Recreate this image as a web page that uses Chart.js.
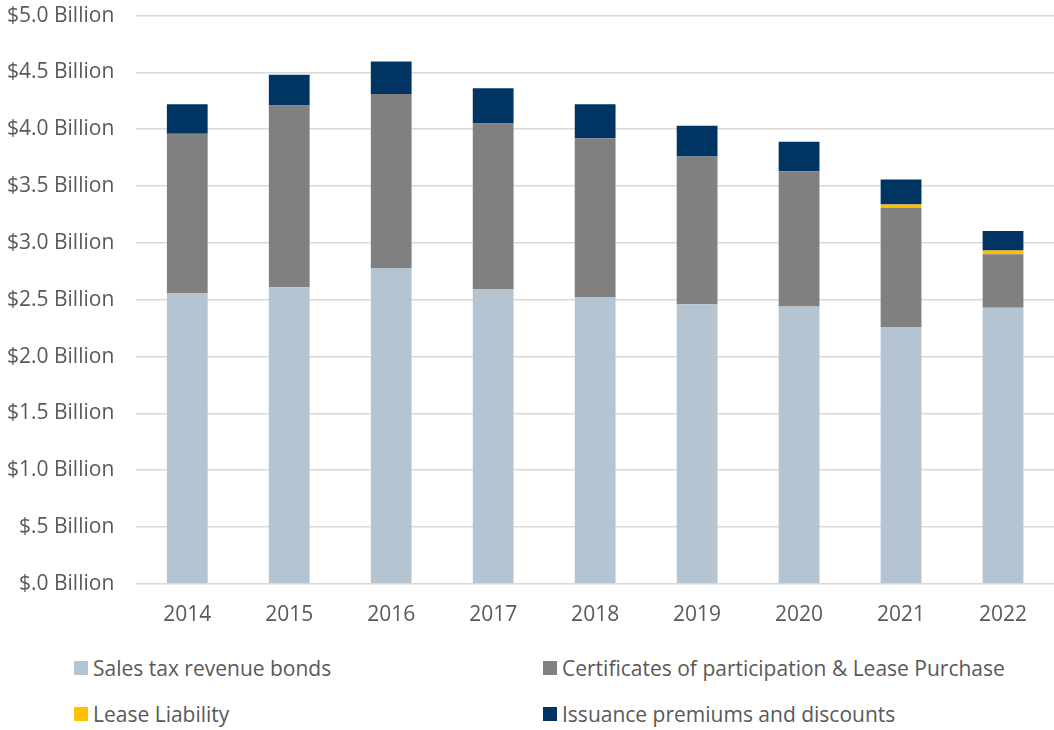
<!DOCTYPE html>
<html>
<head>
<meta charset="utf-8">
<script src="https://cdn.jsdelivr.net/npm/chart.js@4/dist/chart.umd.min.js"></script>
<style>
  body { margin: 0; background: #fff; font-family: "Open Sans", sans-serif; overflow: hidden; }
  #wrap { position: relative; width: 1054px; height: 730px; overflow: hidden; }
  #debtChart { position: absolute; left: -19px; top: -19px; }
  #legend { position: absolute; left: 74px; top: 654px; width: 980px; }
  .item { position: absolute; display: flex; align-items: center; font-size: 21px; color: #595959; white-space: nowrap; }
  .box { width: 14px; height: 14px; margin-right: 5px; }
</style>
</head>
<body>
<div id="wrap">
  <canvas id="debtChart" width="1073" height="658"></canvas>
  <div id="legend"></div>
</div>
<script>
const years = ["2014", "2015", "2016", "2017", "2018", "2019", "2020", "2021", "2022"];
const salesTaxBonds = [2.56, 2.61, 2.78, 2.59, 2.52, 2.46, 2.44, 2.26, 2.43];
const certificates = [1.40, 1.60, 1.53, 1.46, 1.40, 1.30, 1.19, 1.05, 0.47];
const leaseLiability = [0, 0, 0, 0, 0, 0, 0, 0.027, 0.034];
const premiums = [0.26, 0.27, 0.285, 0.31, 0.30, 0.27, 0.26, 0.22, 0.17];

const seriesNames = ["Sales tax revenue bonds", "Certificates of participation & Lease Purchase", "Lease Liability", "Issuance premiums and discounts"];
const seriesColors = ["#b4c4d1", "#808080", "#ffc000", "#003462"];
const seriesData = [salesTaxBonds, certificates, leaseLiability, premiums];

const ctx = document.getElementById("debtChart").getContext("2d");

new Chart(ctx, {
    type: "bar",
    data: {
        labels: years,
        datasets: seriesData.map((d, i) => ({
            label: seriesNames[i],
            data: d,
            backgroundColor: seriesColors[i],
            borderWidth: 0,
            barPercentage: 0.4,
            categoryPercentage: 1
        }))
    },
    options: {
        responsive: false,
        animation: false,
        layout: { padding: { top: 8, right: 0, left: 4, bottom: 0 } },
        plugins: {
            legend: { display: false },
            tooltip: { enabled: false }
        },
        scales: {
            x: {
                stacked: true,
                grid: { display: false },
                border: { display: false },
                ticks: { color: "#595959", font: { family: "Open Sans", size: 21 }, padding: 11 }
            },
            y: {
                stacked: true,
                min: 0,
                max: 5,
                ticks: {
                    stepSize: 0.5,
                    color: "#595959",
                    font: { family: "Open Sans", size: 21 },
                    padding: 22,
                    callback: v => "$" + v.toFixed(1).replace(/^0/, "") + " Billion"
                },
                grid: { color: "#d9d9d9", lineWidth: 1.5, drawTicks: false },
                border: { display: false }
            }
        }
    }
});

// two-column legend like the original
const legend = document.getElementById("legend");
seriesNames.forEach((name, i) => {
    const el = document.createElement("div");
    el.className = "item";
    el.style.left = (i % 2 ? 469 : 0) + "px";
    el.style.top = (i < 2 ? 0 : 46) + "px";
    el.innerHTML = '<span class="box" style="background:' + seriesColors[i] + '"></span>' + name;
    legend.appendChild(el);
});
</script>
</body>
</html>
